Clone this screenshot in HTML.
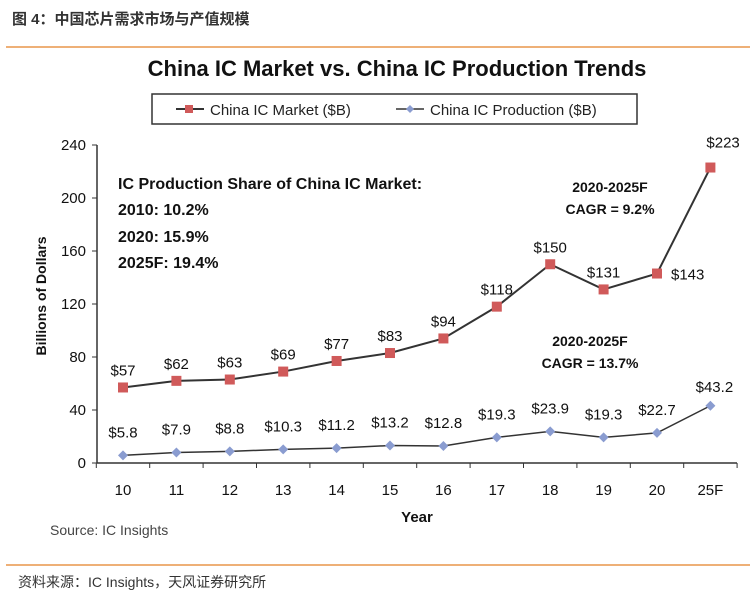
<!DOCTYPE html>
<html><head><meta charset="utf-8"><style>
body{margin:0;background:#fff;width:754px;height:590px;overflow:hidden;font-family:"Liberation Sans","Noto Sans CJK SC",sans-serif}
svg text{font-family:"Liberation Sans","Noto Sans CJK SC",sans-serif}
</style></head><body>
<svg width="754" height="590">
<text x="12" y="24" font-size="15" font-weight="bold" fill="#333">图 4：中国芯片需求市场与产值规模</text>
<line x1="6" y1="47" x2="750" y2="47" stroke="#e8964a" stroke-width="1.5"/>
<text x="397" y="76" font-size="22" font-weight="bold" text-anchor="middle" fill="#111">China IC Market vs. China IC Production Trends</text>
<g>
<rect x="152" y="94" width="485" height="30" fill="#fff" stroke="#333" stroke-width="1.5"/>
<line x1="176" y1="109" x2="204" y2="109" stroke="#333" stroke-width="2"/><rect x="185" y="105" width="8" height="8" fill="#d05a5a"/>
<text x="210" y="115" font-size="15" fill="#222">China IC Market ($B)</text>
<line x1="396" y1="109" x2="424" y2="109" stroke="#333" stroke-width="1.5"/><path d="M410 105 L414 109 L410 113 L406 109Z" fill="#8a9cd0"/>
<text x="430" y="115" font-size="15" fill="#222">China IC Production ($B)</text>
</g>
<text transform="translate(46,296) rotate(-90)" font-size="14" font-weight="bold" text-anchor="middle" fill="#111">Billions of Dollars</text>
<text x="417" y="522" font-size="15" font-weight="bold" text-anchor="middle" fill="#111">Year</text>
<text x="50" y="535" font-size="14" fill="#444">Source: IC Insights</text>
<g font-size="16" font-weight="bold" fill="#111">
<text x="118" y="189">IC Production Share of China IC Market:</text>
<text x="118" y="215">2010: 10.2%</text>
<text x="118" y="242">2020: 15.9%</text>
<text x="118" y="268">2025F: 19.4%</text>
</g>
<g font-size="14" font-weight="bold" fill="#111" text-anchor="middle">
<text x="610" y="192">2020-2025F</text>
<text x="610" y="214">CAGR = 9.2%</text>
<text x="590" y="346">2020-2025F</text>
<text x="590" y="368">CAGR = 13.7%</text>
</g>
<g id="plot"></g>
<line x1="6" y1="565" x2="750" y2="565" stroke="#e8964a" stroke-width="1.5"/>
<text x="18" y="587" font-size="14" fill="#333">资料来源：IC Insights，天风证券研究所</text>
</svg>
<script>
const categories=["10","11","12","13","14","15","16","17","18","19","20","25F"];
const marketValues=[57,62,63,69,77,83,94,118,150,131,143,223];
const productionValues=[5.8,7.9,8.8,10.3,11.2,13.2,12.8,19.3,23.9,19.3,22.7,43.2];
const marketLabels=["$57","$62","$63","$69","$77","$83","$94","$118","$150","$131","$143","$223"];
const productionLabels=["$5.8","$7.9","$8.8","$10.3","$11.2","$13.2","$12.8","$19.3","$23.9","$19.3","$22.7","$43.2"];
const yTicks=[0,40,80,120,160,200,240];
const NS="http://www.w3.org/2000/svg";
const g=document.getElementById('plot');
const x0=123,xStep=53.4,yBase=463,yScale=318/240;
const X=i=>x0+i*xStep, Y=v=>yBase-v*yScale;
function mk(t,a,p){const e=document.createElementNS(NS,t);for(const k in a)e.setAttribute(k,a[k]);(p||g).appendChild(e);return e;}
let ax=mk('line',{x1:97,y1:Y(0),x2:737,y2:Y(0),stroke:'#333','stroke-width':1.5});


let ay=mk('line',{x1:97,y1:Y(0),x2:97,y2:Y(240),stroke:'#333','stroke-width':1.5});


yTicks.forEach(v=>{mk('line',{x1:92,y1:Y(v),x2:97,y2:Y(v),stroke:'#333'});
let t=mk('text',{x:86,y:Y(v)+5,'font-size':15,'text-anchor':'end',fill:'#111'});t.textContent=v;

});
for(let i=0;i<=categories.length;i++){const xx=x0-xStep/2+i*xStep;mk('line',{x1:xx,y1:Y(0),x2:xx,y2:Y(0)+5,stroke:'#333'});}
categories.forEach((c,i)=>{let t=mk('text',{x:X(i),y:495,'font-size':15,'text-anchor':'middle',fill:'#111'});t.textContent=c;

});
let lm=mk('polyline',{points:marketValues.map((v,i)=>X(i)+','+Y(v)).join(' '),fill:'none',stroke:'#333','stroke-width':2});


let lp=mk('polyline',{points:productionValues.map((v,i)=>X(i)+','+Y(v)).join(' '),fill:'none',stroke:'#333','stroke-width':1.5});


marketValues.forEach((v,i)=>{let r=mk('rect',{x:X(i)-5,y:Y(v)-5,width:10,height:10,fill:'#d05a5a'});


let dx=0,dy=-12,anc='middle';if(i===10){dx=14;dy=6;anc='start';}if(i===11){dx=-4;dy=-20;anc='start';}
let t=mk('text',{x:X(i)+dx,y:Y(v)+dy,'font-size':15,'text-anchor':anc,fill:'#111'});t.textContent=marketLabels[i];

});
productionValues.forEach((v,i)=>{let p=mk('path',{d:`M${X(i)} ${Y(v)-5}L${X(i)+5} ${Y(v)}L${X(i)} ${Y(v)+5}L${X(i)-5} ${Y(v)}Z`,fill:'#8a9cd0'});


let yy=i===11?Y(v)-14:Math.min(Y(v)-18,440);
let t=mk('text',{x:X(i)+(i===11?4:0),y:yy,'font-size':15,'text-anchor':'middle',fill:'#111'});t.textContent=productionLabels[i];

});
</script>
</body></html>
